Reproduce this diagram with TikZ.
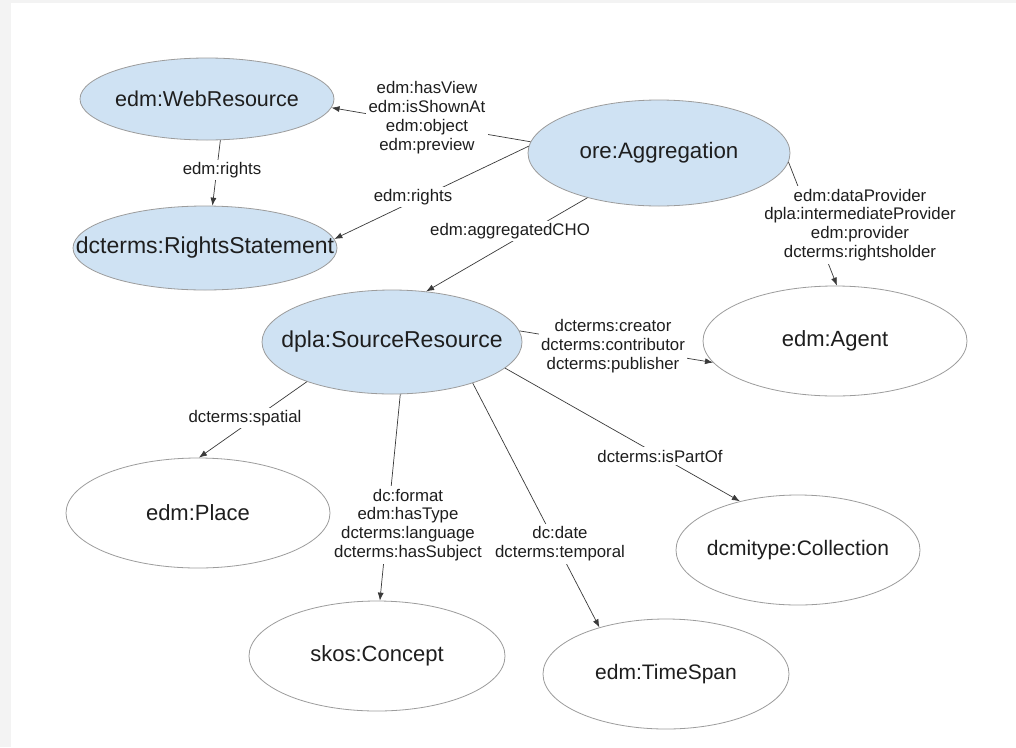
\documentclass[tikz,border=0pt]{standalone}
\usepackage{fontspec}
\setmainfont{Liberation Sans}
\usetikzlibrary{shapes.geometric,arrows.meta}
\definecolor{nodeblue}{HTML}{CFE2F3}
\definecolor{edgegray}{HTML}{9C9C9C}
\definecolor{linecol}{HTML}{3A3A3A}
\definecolor{txt}{HTML}{1E1E1E}
\definecolor{pagegray}{HTML}{F3F3F3}
\newcommand\zwbox[1]{\makebox[0pt][c]{#1}}
\begin{document}
\begin{tikzpicture}[x=1pt,y=-1pt,
  ent/.style={ellipse, draw=edgegray, line width=0.8pt, inner sep=0pt, text=txt, fill=white},
  filledent/.style={ent, fill=nodeblue},
  lbl/.style={fill=white, inner sep=2.5pt, align=center, text=txt, font=\fontsize{16.8}{18.8}\selectfont},
  conn/.style={draw=linecol, line width=0.7pt, -{Latex[length=8pt,width=6pt]}}
]
% page
\fill[pagegray] (0,0) rectangle (1016,747);
\fill[white] (11,3) rectangle (1016,747);
\useasboundingbox (0,0) rectangle (1016,747);

% entities
\node[filledent, minimum width=254pt, minimum height=82pt, font=\fontsize{21.5}{24}\selectfont] (web) at (207,99) {\zwbox{edm:WebResource}};
\node[filledent, minimum width=264pt, minimum height=84pt, font=\fontsize{23}{26}\selectfont] (rights) at (205,248) {\zwbox{dcterms:RightsStatement}};
\node[filledent, minimum width=262pt, minimum height=106pt, font=\fontsize{22.3}{25}\selectfont] (agg) at (659,153) {\zwbox{ore:Aggregation}};
\node[filledent, minimum width=260pt, minimum height=104pt, font=\fontsize{23}{26}\selectfont] (src) at (392,342) {\zwbox{dpla:SourceResource}};
\node[ent, minimum width=264pt, minimum height=110pt, font=\fontsize{22}{25}\selectfont] (agent) at (835,341) {\zwbox{edm:Agent}};
\node[ent, minimum width=264pt, minimum height=110pt, font=\fontsize{22}{25}\selectfont] (place) at (198,513) {\zwbox{edm:Place}};
\node[ent, minimum width=256pt, minimum height=110pt, font=\fontsize{22}{25}\selectfont] (concept) at (377,656) {\zwbox{skos:Concept}};
\node[ent, minimum width=246pt, minimum height=110pt, font=\fontsize{21}{24}\selectfont] (time) at (666,674) {\zwbox{edm:TimeSpan}};
\node[ent, minimum width=244pt, minimum height=110pt, font=\fontsize{21}{24}\selectfont] (coll) at (798,550) {\zwbox{dcmitype:Collection}};

% connectors
\draw[conn] (agg.175) -- (web.-4);
\draw[conn] (web.-72) -- (rights.80);
\draw[conn] (agg.177) -- (rights.4);
\draw[conn] (agg.212) -- (src.56);
\draw[conn] (agg.-4) -- (agent.88);
\draw[conn] (src.5) -- (agent.190);
\draw[conn] (src.205) -- (place.89);
\draw[conn] (src.-81) -- (concept.87);
\draw[conn] (src.-27) -- (time.145);
\draw[conn] (src.-13) -- (coll.140);

% labels
\node[lbl] (l1) at (427,117.5) {edm:hasView\\edm:isShownAt\\edm:object\\edm:preview};
\node[lbl] (l2) at (222,170) {edm:rights};
\node[lbl] (l3) at (413,197) {edm:rights};
\node[lbl] (l4) at (510,231) {edm:aggregatedCHO};
\node[lbl] (l5) at (860,225) {edm:dataProvider\\dpla:intermediateProvider\\edm:provider\\dcterms:rightsholder};
\node[lbl] (l6) at (613,346) {dcterms:creator\\dcterms:contributor\\dcterms:publisher};
\node[lbl] (l7) at (245,418) {dcterms:spatial};
\node[lbl] (l8) at (408,525) {dc:format\\edm:hasType\\dcterms:language\\dcterms:hasSubject};
\node[lbl] (l9) at (560,544) {dc:date\\dcterms:temporal};
\node[lbl] (l10) at (660,456) {dcterms:isPartOf};
\end{tikzpicture}
\end{document}
